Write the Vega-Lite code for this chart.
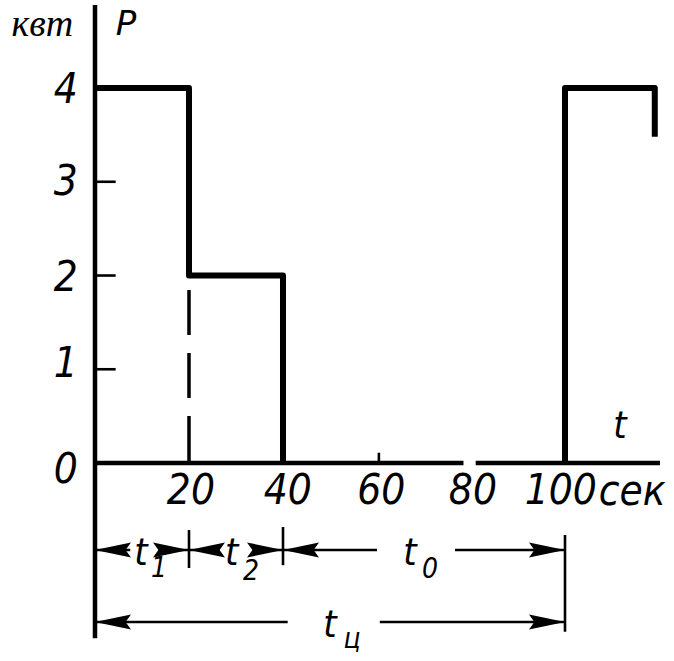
{
  "$schema": "https://vega.github.io/schema/vega-lite/v6.json",
  "width": 674,
  "height": 661,
  "padding": 0,
  "autosize": "none",
  "background": "white",
  "config": {"view": {"stroke": null}},
  "datasets": {
    "segs": [
      {"x": 0, "y": -1.87, "x2": 0, "y2": 4.885, "kind": "axis"},
      {"x": 0, "y": 0, "x2": 78.4, "y2": 0, "kind": "axis"},
      {"x": 81, "y": 0, "x2": 120.2, "y2": 0, "kind": "axis"},
      {"x": 0, "y": 1, "x2": 4.4, "y2": 1, "kind": "thin"},
      {"x": 0, "y": 2, "x2": 4.4, "y2": 2, "kind": "thin"},
      {"x": 0, "y": 3, "x2": 4.4, "y2": 3, "kind": "thin"},
      {"x": 60.4, "y": 0, "x2": 60.4, "y2": 0.11, "kind": "thin"},
      {"x": 0, "y": -0.928, "x2": 7.5, "y2": -0.928, "kind": "thin"},
      {"x": 13.5, "y": -0.928, "x2": 26.5, "y2": -0.928, "kind": "thin"},
      {"x": 34, "y": -0.928, "x2": 60, "y2": -0.928, "kind": "thin"},
      {"x": 76.6, "y": -0.928, "x2": 100, "y2": -0.928, "kind": "thin"},
      {"x": 0, "y": -1.696, "x2": 41, "y2": -1.696, "kind": "thin"},
      {"x": 60.6, "y": -1.696, "x2": 100, "y2": -1.696, "kind": "thin"},
      {"x": 20, "y": -0.715, "x2": 20, "y2": -1.12, "kind": "thin"},
      {"x": 40, "y": -0.683, "x2": 40, "y2": -1.09, "kind": "thin"},
      {"x": 100, "y": -0.768, "x2": 100, "y2": -1.8, "kind": "thin"},
      {"x": 20, "y": 2, "x2": 20, "y2": 0, "kind": "dash"}
    ],
    "step": [
      {"s": "a", "i": 1, "x": 0, "y": 4},
      {"s": "a", "i": 2, "x": 20, "y": 4},
      {"s": "a", "i": 3, "x": 20, "y": 2},
      {"s": "a", "i": 4, "x": 40, "y": 2},
      {"s": "a", "i": 5, "x": 40, "y": 0},
      {"s": "b", "i": 1, "x": 100, "y": 0},
      {"s": "b", "i": 2, "x": 100, "y": 4},
      {"s": "b", "i": 3, "x": 119.1, "y": 4},
      {"s": "b", "i": 4, "x": 119.1, "y": 3.48}
    ],
    "arrows": [
      {"x": 0, "y": -0.928, "dir": "left"},
      {"x": 20, "y": -0.928, "dir": "right"},
      {"x": 20, "y": -0.928, "dir": "left"},
      {"x": 40, "y": -0.928, "dir": "right"},
      {"x": 40, "y": -0.928, "dir": "left"},
      {"x": 100, "y": -0.928, "dir": "right"},
      {"x": 0, "y": -1.696, "dir": "left"},
      {"x": 100, "y": -1.696, "dir": "right"}
    ],
    "labels": [
      {"text": "0", "x": -6.2, "y": -0.075, "kind": "num"},
      {"text": "1", "x": -6.2, "y": 1.056, "kind": "num"},
      {"text": "2", "x": -6.2, "y": 1.97, "kind": "num"},
      {"text": "3", "x": -6.2, "y": 3.0, "kind": "num"},
      {"text": "4", "x": -6.2, "y": 3.98, "kind": "num"},
      {"text": "20", "x": 20.4, "y": -0.3, "kind": "num"},
      {"text": "40", "x": 41, "y": -0.3, "kind": "num"},
      {"text": "60", "x": 60.9, "y": -0.3, "kind": "num"},
      {"text": "80", "x": 80.4, "y": -0.3, "kind": "num"},
      {"text": "100", "x": 99.1, "y": -0.3, "kind": "num"},
      {"text": "сек", "x": 114.3, "y": -0.448, "kind": "word"},
      {"text": "P", "x": 6.6, "y": 4.565, "kind": "cap"},
      {"text": "квт", "x": -11.2, "y": 4.555, "kind": "unit"},
      {"text": "t", "x": 111.7, "y": 0.267, "kind": "t"},
      {"text": "t", "x": 9.8, "y": -1.088, "kind": "t"},
      {"text": "t", "x": 29.1, "y": -1.088, "kind": "t"},
      {"text": "t", "x": 67.0, "y": -1.088, "kind": "t"},
      {"text": "t", "x": 50.0, "y": -1.856, "kind": "t"},
      {"text": "1", "x": 13.6, "y": -1.216, "kind": "sub"},
      {"text": "2", "x": 33.2, "y": -1.248, "kind": "sub"},
      {"text": "0", "x": 71.3, "y": -1.227, "kind": "sub"},
      {"text": "ц", "x": 54.7, "y": -1.973, "kind": "sub"}
    ]
  },
  "encoding": {
    "x": {"field": "x", "type": "quantitative", "scale": {"domain": [-20.21, 123.19], "nice": false, "zero": false}, "axis": null},
    "y": {"field": "y", "type": "quantitative", "scale": {"domain": [-2.112, 4.939], "nice": false, "zero": false}, "axis": null}
  },
  "layer": [
    {
      "data": {"name": "segs"},
      "transform": [{"filter": "datum.kind === 'axis'"}],
      "mark": {"type": "rule", "color": "black", "strokeWidth": 4.5, "strokeCap": "butt"},
      "encoding": {"x2": {"field": "x2"}, "y2": {"field": "y2"}}
    },
    {
      "data": {"name": "segs"},
      "transform": [{"filter": "datum.kind === 'thin'"}],
      "mark": {"type": "rule", "color": "black", "strokeWidth": 2.6, "strokeCap": "butt"},
      "encoding": {"x2": {"field": "x2"}, "y2": {"field": "y2"}}
    },
    {
      "data": {"name": "segs"},
      "transform": [{"filter": "datum.kind === 'dash'"}],
      "mark": {"type": "rule", "color": "black", "strokeWidth": 3.5, "strokeDash": [45, 18], "strokeDashOffset": 48.5},
      "encoding": {"x2": {"field": "x2"}, "y2": {"field": "y2"}}
    },
    {
      "data": {"name": "step"},
      "mark": {"type": "line", "color": "black", "strokeWidth": 6, "strokeJoin": "round", "strokeCap": "butt"},
      "encoding": {"detail": {"field": "s"}, "order": {"field": "i", "type": "quantitative"}}
    },
    {
      "data": {"name": "arrows"},
      "transform": [{"filter": "datum.dir === 'left'"}],
      "mark": {"type": "point", "filled": true, "color": "black", "opacity": 1, "size": 1296, "shape": "M0,0L2,-0.42L1.7,0L2,0.42Z"},
      "encoding": {}
    },
    {
      "data": {"name": "arrows"},
      "transform": [{"filter": "datum.dir === 'right'"}],
      "mark": {"type": "point", "filled": true, "color": "black", "opacity": 1, "size": 1296, "shape": "M0,0L-2,-0.42L-1.7,0L-2,0.42Z"},
      "encoding": {}
    },
    {
      "data": {"name": "labels"},
      "transform": [{"filter": "datum.kind === 'num'"}],
      "mark": {"type": "text", "font": "DejaVu Sans Condensed, Liberation Sans Narrow, DejaVu Sans", "fontStyle": "italic", "fontSize": 42, "align": "center", "baseline": "middle", "color": "black"},
      "encoding": {"text": {"field": "text"}}
    },
    {
      "data": {"name": "labels"},
      "transform": [{"filter": "datum.kind === 'word'"}],
      "mark": {"type": "text", "font": "DejaVu Sans Condensed, Liberation Sans Narrow, DejaVu Sans", "fontStyle": "italic", "fontSize": 42, "align": "center", "baseline": "alphabetic", "color": "black"},
      "encoding": {"text": {"field": "text"}}
    },
    {
      "data": {"name": "labels"},
      "transform": [{"filter": "datum.kind === 'cap'"}],
      "mark": {"type": "text", "font": "DejaVu Sans, Liberation Sans", "fontStyle": "italic", "fontSize": 34, "align": "center", "baseline": "alphabetic", "color": "black"},
      "encoding": {"text": {"field": "text"}}
    },
    {
      "data": {"name": "labels"},
      "transform": [{"filter": "datum.kind === 'unit'"}],
      "mark": {"type": "text", "font": "Liberation Serif, DejaVu Serif", "fontStyle": "italic", "fontSize": 38, "align": "center", "baseline": "alphabetic", "color": "black"},
      "encoding": {"text": {"field": "text"}}
    },
    {
      "data": {"name": "labels"},
      "transform": [{"filter": "datum.kind === 't'"}],
      "mark": {"type": "text", "font": "DejaVu Sans Condensed, Liberation Sans Narrow, DejaVu Sans", "fontStyle": "italic", "fontSize": 38, "align": "center", "baseline": "alphabetic", "color": "black"},
      "encoding": {"text": {"field": "text"}}
    },
    {
      "data": {"name": "labels"},
      "transform": [{"filter": "datum.kind === 'sub'"}],
      "mark": {"type": "text", "font": "DejaVu Sans Condensed, Liberation Sans Narrow, DejaVu Sans", "fontStyle": "italic", "fontSize": 28, "align": "center", "baseline": "alphabetic", "color": "black"},
      "encoding": {"text": {"field": "text"}}
    }
  ]
}
